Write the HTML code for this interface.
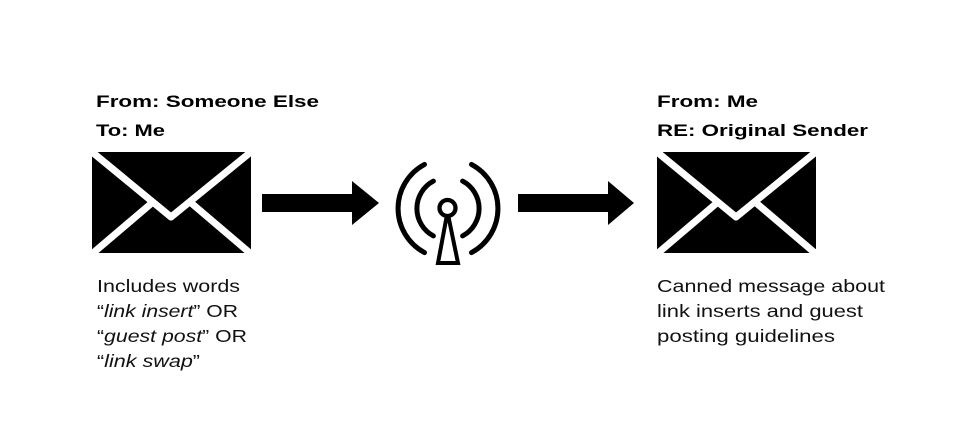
<!DOCTYPE html>
<html>
<head>
<meta charset="utf-8">
<style>
  html, body { margin: 0; padding: 0; background: #fff; }
  svg { display: block; }
  .h { font-family: "Liberation Sans", sans-serif; font-weight: bold; font-size: 17px; fill: #000; }
  .b { font-family: "Liberation Sans", sans-serif; font-size: 17.5px; fill: #111; }
</style>
</head>
<body>
<svg width="960" height="441" viewBox="0 0 960 441" xmlns="http://www.w3.org/2000/svg">
  <rect width="960" height="441" fill="#fff"/>

  <!-- Left headings -->
  <text class="h" x="96" y="107" textLength="223" lengthAdjust="spacingAndGlyphs">From: Someone Else</text>
  <text class="h" x="96" y="136" textLength="69" lengthAdjust="spacingAndGlyphs">To: Me</text>

  <!-- Right headings -->
  <text class="h" x="657" y="107" textLength="101" lengthAdjust="spacingAndGlyphs">From: Me</text>
  <text class="h" x="657" y="136" textLength="211" lengthAdjust="spacingAndGlyphs">RE: Original Sender</text>

  <!-- Envelope left -->
  <g id="env">
    <rect x="92" y="152" width="159" height="101" fill="#000"/>
    <polyline points="86,147 171,217 257,147" fill="none" stroke="#fff" stroke-width="7" stroke-linejoin="round"/>
    <line x1="86" y1="259" x2="153" y2="202" stroke="#fff" stroke-width="7"/>
    <line x1="257" y1="259" x2="190" y2="202" stroke="#fff" stroke-width="7"/>
  </g>
  <!-- Envelope right -->
  <g transform="translate(565,0)">
    <rect x="92" y="152" width="159" height="101" fill="#000"/>
    <polyline points="86,147 171,217 257,147" fill="none" stroke="#fff" stroke-width="7" stroke-linejoin="round"/>
    <line x1="86" y1="259" x2="153" y2="202" stroke="#fff" stroke-width="7"/>
    <line x1="257" y1="259" x2="190" y2="202" stroke="#fff" stroke-width="7"/>
  </g>

  <!-- Arrow 1 -->
  <polygon points="262,194 352,194 352,181 379,203 352,225 352,212 262,212" fill="#000"/>
  <!-- Arrow 2 -->
  <polygon points="518,194 608,194 608,181 634,203 608,225 608,212 518,212" fill="#000"/>

  <!-- Antenna -->
  <g fill="none" stroke="#000" stroke-width="5" stroke-linecap="round">
    <!-- outer arcs r=50, ±62deg -->
    <path d="M 424.5 164.4 A 50 50 0 0 0 424.5 252.6"/>
    <path d="M 471.5 164.4 A 50 50 0 0 1 471.5 252.6"/>
    <!-- inner arcs r=31 -->
    <path d="M 433.4 181.1 A 31 31 0 0 0 433.4 235.9"/>
    <path d="M 462.6 181.1 A 31 31 0 0 1 462.6 235.9"/>
  </g>
  <polygon points="447.5,212 438,263 458,263" fill="#fff" stroke="#000" stroke-width="4" stroke-linejoin="miter"/>
  <circle cx="447.5" cy="208" r="8" fill="#fff" stroke="#000" stroke-width="4.3"/>

  <!-- Left body -->
  <text class="b" x="97" y="292" textLength="143" lengthAdjust="spacingAndGlyphs">Includes words</text>
  <text class="b" x="97" y="317" textLength="141" lengthAdjust="spacingAndGlyphs">“<tspan font-style="italic">link insert</tspan>” OR</text>
  <text class="b" x="97" y="342" textLength="150" lengthAdjust="spacingAndGlyphs">“<tspan font-style="italic">guest post</tspan>” OR</text>
  <text class="b" x="97" y="367" textLength="103" lengthAdjust="spacingAndGlyphs">“<tspan font-style="italic">link swap</tspan>”</text>

  <!-- Right body -->
  <text class="b" x="657" y="292" textLength="228" lengthAdjust="spacingAndGlyphs">Canned message about</text>
  <text class="b" x="657" y="317" textLength="206" lengthAdjust="spacingAndGlyphs">link inserts and guest</text>
  <text class="b" x="657" y="342" textLength="178" lengthAdjust="spacingAndGlyphs">posting guidelines</text>
</svg>
</body>
</html>
